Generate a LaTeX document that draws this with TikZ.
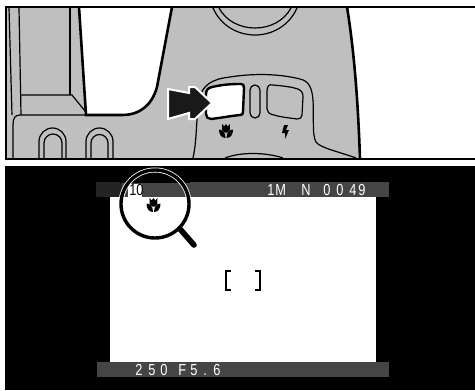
\documentclass[tikz,border=0pt]{standalone}
\usepackage{fontspec}
\setmainfont{Liberation Sans}
\usetikzlibrary{calc}
\definecolor{bodygray}{gray}{0.75}
\definecolor{bargray}{gray}{0.27}
\definecolor{bardark}{gray}{0.14}
\tikzset{
    thinline/.style={black, line width=0.6pt},
    heavyline/.style={black, line width=1.3pt},
    lcdtext/.style={white, inner sep=0pt, font=\fontsize{8}{8}\selectfont, anchor=base west, xscale=0.8},
    macroicon/.pic={
        \fill[black] (-3.8,-7) -- (-1.8,-4.5) -- (0,-7) -- (1.8,-4.5) -- (3.8,-7) -- (3.8,-1) -- (1.5,1.5) -- (-1.5,1.5) -- (-3.8,-1) -- cycle;
        \fill[black] (-7,-1.5) .. controls (-3.5,-1.5) and (-0.5,1.5) .. (-0.5,7) .. controls (-5,7) and (-7,3) .. (-7,-1.5) -- cycle;
        \fill[black] (7,-1.5) .. controls (3.5,-1.5) and (0.5,1.5) .. (0.5,7) .. controls (5,7) and (7,3) .. (7,-1.5) -- cycle;
    }
}
\begin{document}
\begin{tikzpicture}[x=0.5pt,y=-0.5pt]

    \useasboundingbox (0,0) rectangle (475,390);
    \fill[white] (0,0) rectangle (475,390);

    % Camera back
    \fill[bodygray] (6,7) -- (347,7) .. controls (354,50) and (358,100) .. (360,159) -- (6,159) -- cycle;
    \fill[white] (79,7) -- (172,7) -- (157,87) .. controls (152,105) and (140,115) .. (122,115) -- (86,115) -- cycle;
    \draw[heavyline] (79,7) -- (86,115) -- (122,115) .. controls (140,115) and (152,105) .. (157,87) -- (172,7);
    \draw[heavyline] (347,7) .. controls (354,50) and (358,100) .. (360,159);

    % Viewfinder block on the left
    \draw[thinline] (9,8) -- (12,115);
    \draw[thinline] (19,8) -- (21,115);
    \draw[thinline] (70,8) -- (70,95);
    \draw[thinline] (20,95) -- (72,95) -- (85,111);
    \draw[thinline] (86,115) -- (20,115) .. controls (15,115) and (13,118) .. (13,125) -- (13,158);

    % Two round slots
    \draw[thinline] (39,158) -- (39,141.5) arc[start angle=180, end angle=360, radius=13.5] -- (66,158);
    \draw[thinline] (44,158) -- (44,143) arc[start angle=180, end angle=360, radius=9] -- (62,158);
    \draw[thinline] (86,158) -- (86,141.5) arc[start angle=180, end angle=360, radius=13.5] -- (113,158);
    \draw[thinline] (91,158) -- (91,143) arc[start angle=180, end angle=360, radius=8.5] -- (108,158);

    % Mode dial
    \draw[thinline] (219,8) .. controls (226,21) and (240,28) .. (255,28) .. controls (270,28) and (284,21) .. (291,8);
    \draw[thinline] (213,8) .. controls (221,26) and (238,35) .. (255,35) .. controls (272,35) and (289,26) .. (297,8);

    % Button plate
    \draw[thinline] (193,158) .. controls (197,140) and (196,120) .. (199,100) .. controls (202,85) and (212,79) .. (230,77) .. controls (255,73) and (280,74) .. (300,79) .. controls (309,81) and (312,88) .. (313,100) .. controls (314,120) and (312,135) .. (316,142) .. controls (320,148) and (340,152) .. (356,158);
    \draw[thinline] (225,158) .. controls (240,152) and (265,152) .. (283,158);

    % Macro button
    \fill[white, draw=black, line width=1.2pt] (212,87) .. controls (225,84) and (235,84) .. (241,84) .. controls (243,84) and (244,85) .. (244,88) -- (243,112) .. controls (243,114) and (242,115) .. (240,115) .. controls (230,116) and (220,118) .. (211,119) .. controls (208,119) and (206,117) .. (206,114) -- (206,94) .. controls (206,90) and (208,88) .. (212,87) -- cycle;
    % Slot between the buttons
    \draw[thinline] (250,90) arc[start angle=180, end angle=360, radius=5] -- (260,113) arc[start angle=0, end angle=180, radius=5] -- cycle;
    % Flash button
    \draw[thinline] (267,91) .. controls (267,86) and (269,84) .. (273,85) .. controls (284,86) and (292,87) .. (298,89) .. controls (302,91) and (303,93) .. (303,97) -- (302,115) .. controls (302,118) and (300,119) .. (297,119) .. controls (290,118) and (280,117) .. (274,115) .. controls (269,114) and (267,112) .. (267,109) -- cycle;

    % Icons under the buttons
    \pic at (226,131) {macroicon};
    \fill[black] (284,125) -- (288,125) -- (286,130) -- (289,130) -- (285,139) -- (285,133) -- (282,133) -- cycle;

    % Arrow pointing at the button
    \filldraw[fill=black!90, draw=white, line width=1pt, line join=miter] (168,89) -- (189,93) -- (189,87) -- (195,87) -- (212,103) -- (195,119) -- (189,119) -- (189,113) -- (168,119) -- cycle;

    % Panel frame
    \draw[heavyline] (475,7) -- (6,7) -- (6,159) -- (475,159);

    % Monitor
    \fill[black] (5,166) rectangle (475,390);
    \fill[bargray] (96,182) rectangle (389,197);
    \fill[bardark] (96,182) rectangle (122,197);
    \fill[bargray] (97,362) rectangle (389,377);
    \fill[white] (110,197) rectangle (376,362);

    % Focus brackets
    \draw[black, line width=1pt] (231,270.5) -- (226,270.5) -- (226,289.5) -- (231,289.5);
    \draw[black, line width=1pt] (255,270.5) -- (260,270.5) -- (260,289.5) -- (255,289.5);

    % Monitor texts
    \foreach \ch/\xpos in {1/267,M/275,N/301,0/323,0/336,4/349,9/358} {
        \node[lcdtext] (top\xpos) at (\xpos,195) {\ch};
    }
    \foreach \ch/\xpos in {2/135,5/148,0/160,F/178,5/190,./203,6/213} {
        \node[lcdtext] (bottom\xpos) at (\xpos,375) {\ch};
    }

    % Magnifier
    \fill[black] (120,183) -- (190,183) -- (190,170) -- (120,170) -- cycle;
    \fill[white] (128,184) rectangle (142,197);
    \node[lcdtext, black] (modeText) at (129,195) {10};
    \draw[white, line width=2.5pt] (155,204) circle[radius=34];
    \draw[black, line width=1.7pt] (155,204) circle[radius=34];
    \draw[black, line width=2.8pt, line cap=round] (180,229) -- (194,245);
    \pic at (153.5,205) {macroicon};

\end{tikzpicture}
\end{document}
